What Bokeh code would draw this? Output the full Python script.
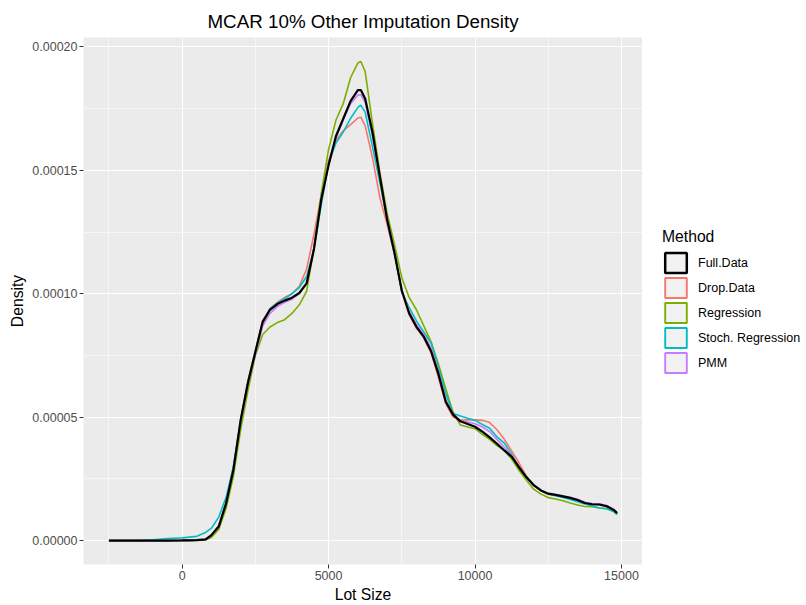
from bokeh.plotting import figure
from bokeh.models import FixedTicker, PrintfTickFormatter, Legend, LegendItem, Range1d
from bokeh.layouts import row
from bokeh.embed import file_html
from bokeh.resources import INLINE

# ---- data (density values in units of 1e-5) ----
lot_size = [-2500, -2000, -1500, -1000, -500, 0, 250, 500,
            800, 1000, 1250, 1500, 1750, 2000,
            2250, 2500, 2750, 3000, 3250, 3500, 3750, 4000, 4250, 4500, 4750,
            5000, 5250, 5500, 5750, 6000, 6100,
            6250, 6500, 6750, 7000, 7250, 7500, 7750, 8000, 8250, 8500,
            8750, 9000, 9250, 9500, 9750, 10000, 10250, 10500, 10750, 11000,
            11250, 11500, 11750, 12000, 12250, 12500, 12750, 13000, 13250, 13500,
            13750, 14000, 14250, 14500, 14750, 14850]

full_data = [0, 0, 0, 0, 0, 0.005, 0.01, 0.02,
             0.05, 0.22, 0.57, 1.50, 2.87, 4.89,
             6.41, 7.64, 8.86, 9.35, 9.58, 9.72, 9.84, 10.03, 10.42, 11.8, 13.82,
             15.21, 16.38, 17.09, 17.80, 18.25, 18.25,
             17.90, 16.53, 14.75, 13.00, 11.65, 10.13, 9.21, 8.66, 8.26, 7.67,
             6.75, 5.62, 5.10, 4.83, 4.72, 4.61, 4.41, 4.18, 3.92, 3.65,
             3.40, 2.97, 2.57, 2.25, 2.03, 1.90, 1.85, 1.79, 1.73, 1.64,
             1.52, 1.47, 1.46, 1.39, 1.23, 1.11]

drop_data = [0, 0, 0, 0, 0, 0.005, 0.01, 0.02,
             0.04, 0.20, 0.60, 1.55, 2.95, 4.95,
             6.50, 7.70, 8.90, 9.40, 9.65, 9.85, 10.00, 10.30, 11.00, 12.40, 14.00,
             15.40, 16.20, 16.60, 16.85, 17.12, 17.15,
             16.80, 15.50, 13.90, 12.80, 11.60, 10.10, 9.15, 8.60, 8.20, 7.60,
             6.60, 5.55, 5.00, 4.88, 4.89, 4.89, 4.87, 4.78, 4.49, 4.10,
             3.63, 3.15, 2.62, 2.25, 2.02, 1.88, 1.83, 1.77, 1.71, 1.63,
             1.52, 1.46, 1.44, 1.37, 1.22, 1.10]

regression = [0, 0, 0, 0, 0, 0.003, 0.005, 0.01,
              0.02, 0.12, 0.45, 1.30, 2.60, 4.50,
              6.10, 7.50, 8.35, 8.65, 8.83, 8.95, 9.20, 9.55, 10.10, 11.85, 14.05,
              15.85, 17.03, 17.70, 18.75, 19.35, 19.41,
              19.00, 16.88, 14.93, 13.25, 12.00, 10.65, 9.85, 9.35, 8.70, 8.05,
              7.15, 6.15, 5.20, 4.68, 4.60, 4.53, 4.30, 4.10, 3.85, 3.65,
              3.30, 2.85, 2.45, 2.08, 1.88, 1.74, 1.68, 1.61, 1.52, 1.44,
              1.38, 1.37, 1.32, 1.28, 1.18, 1.08]

stoch_regression = [0, 0, 0, 0.03, 0.08, 0.11, 0.14, 0.17,
                    0.33, 0.50, 0.95, 1.75, 3.00, 4.85,
                    6.40, 7.60, 8.80, 9.40, 9.62, 9.80, 10.00, 10.25, 10.70, 11.80, 13.60,
                    15.30, 16.10, 16.55, 17.10, 17.55, 17.64,
                    17.35, 15.95, 14.50, 13.00, 11.70, 10.05, 9.45, 8.90, 8.45, 8.00,
                    7.00, 5.95, 5.15, 5.05, 4.95, 4.87, 4.70, 4.55, 4.20, 3.95,
                    3.50, 2.95, 2.55, 2.24, 2.02, 1.88, 1.82, 1.74, 1.66, 1.57,
                    1.48, 1.40, 1.32, 1.30, 1.15, 1.05]

pmm = [0, 0, 0, 0, 0, 0.005, 0.01, 0.02,
       0.04, 0.22, 0.60, 1.52, 2.90, 4.90,
       6.40, 7.55, 8.70, 9.20, 9.48, 9.65, 9.78, 10.00, 10.45, 11.85, 13.80,
       15.25, 16.30, 17.05, 17.70, 18.05, 18.06,
       17.75, 16.40, 14.70, 13.00, 11.65, 10.10, 9.30, 8.75, 8.35, 7.80,
       6.85, 5.70, 5.12, 4.86, 4.80, 4.73, 4.60, 4.42, 4.10, 3.78,
       3.45, 3.00, 2.58, 2.26, 2.04, 1.90, 1.86, 1.81, 1.75, 1.67,
       1.55, 1.50, 1.49, 1.42, 1.25, 1.12]

UNIT = 1e-5

methods = ["Full.Data", "Drop.Data", "Regression", "Stoch. Regression", "PMM"]
series = [full_data, drop_data, regression, stoch_regression, pmm]
colors = ["#000000", "#F8766D", "#7CAE00", "#00BFC4", "#C77CFF"]
widths = [2.2, 1.6, 1.6, 1.6, 1.6]

x_ticks = [0, 5000, 10000, 15000]
x_minor = [-2500, 2500, 7500, 12500]
y_ticks = [0.0, 0.00005, 0.00010, 0.00015, 0.00020]
y_minor = [0.000025, 0.000075, 0.000125, 0.000175]

FONT = "Liberation Sans"

dens = [[v * UNIT for v in s] for s in series]
xmin, xmax = min(lot_size), max(lot_size)
ymin = 0.0
ymax = max(max(d) for d in dens)
dx = xmax - xmin
dy = ymax - ymin

p = figure(width=642, height=605,
           x_range=Range1d(xmin - 0.05 * dx, xmax + 0.05 * dx),
           y_range=Range1d(ymin - 0.05 * dy, ymax + 0.05 * dy),
           output_backend="svg", toolbar_location=None,
           min_border_left=83, min_border_right=0,
           min_border_top=37, min_border_bottom=41)

p.background_fill_color = "#EBEBEB"
p.border_fill_color = "white"
p.outline_line_color = None

p.title.text = "MCAR 10% Other Imputation Density"
p.title.align = "center"
p.title.text_font = FONT
p.title.text_font_size = "18.8px"
p.title.text_font_style = "normal"
p.title.text_color = "#000000"
p.title.standoff = 12

p.xaxis.ticker = FixedTicker(ticks=x_ticks, minor_ticks=x_minor)
p.yaxis.ticker = FixedTicker(ticks=y_ticks, minor_ticks=y_minor)
p.xaxis.formatter = PrintfTickFormatter(format="%d")
p.yaxis.formatter = PrintfTickFormatter(format="%.5f")

for ax in (p.xaxis[0], p.yaxis[0]):
    ax.axis_line_color = None
    ax.major_tick_line_color = "#333333"
    ax.major_tick_line_width = 1
    ax.major_tick_out = 4
    ax.major_tick_in = 0
    ax.minor_tick_line_color = None
    ax.major_label_text_font = FONT
    ax.major_label_text_font_size = "12.5px"
    ax.major_label_text_color = "#4D4D4D"
    ax.major_label_standoff = 2
    ax.axis_label_text_font = FONT
    ax.axis_label_text_font_size = "15.7px"
    ax.axis_label_text_font_style = "normal"
    ax.axis_label_text_color = "#000000"
    ax.axis_label_standoff = 3

p.xaxis.axis_label = "Lot Size"
p.yaxis.axis_label = "Density"

for g in (p.xgrid[0], p.ygrid[0]):
    g.grid_line_color = "white"
    g.grid_line_width = 1.1
    g.minor_grid_line_color = "white"
    g.minor_grid_line_width = 0.55

# density lines (Full.Data drawn last, on top)
order = [1, 2, 3, 4, 0]
for i in order:
    p.line(lot_size, dens[i], line_color=colors[i], line_width=widths[i])

# ---- legend panel (separate figure on the right) ----
lg = figure(width=164, height=605, output_backend="svg", toolbar_location=None,
            title=None, x_range=Range1d(0, 1), y_range=Range1d(0, 1),
            min_border=0, x_axis_location=None, y_axis_location=None)
lg.outline_line_color = None
lg.background_fill_color = "white"
lg.border_fill_color = "white"
lg.grid.visible = False

items = []
for i, m in enumerate(methods):
    r = lg.rect(x=[0], y=[0], width=0, height=0, fill_color="#F2F2F2",
                line_color=colors[i], line_width=widths[i] + 0.3, visible=False)
    items.append(LegendItem(label=m, renderers=[r]))

legend = Legend(items=items, title="Method",
                location=(20, 189),
                glyph_width=27, glyph_height=25, label_height=25,
                spacing=0, padding=8, margin=0,
                label_standoff=9,
                title_standoff=4,
                inactive_fill_alpha=0,
                background_fill_alpha=0, border_line_color=None,
                label_text_font=FONT, label_text_font_size="12.5px",
                label_text_color="#000000",
                title_text_font=FONT, title_text_font_size="15.7px",
                title_text_font_style="normal", title_text_color="#000000")
lg.add_layout(legend)

layout = row(p, lg, spacing=0)
open("out.html", "w").write(file_html(layout, INLINE))
